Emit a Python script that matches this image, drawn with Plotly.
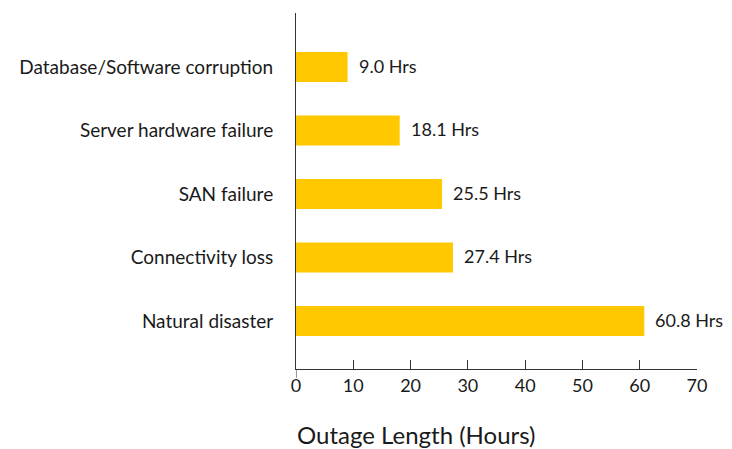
import plotly.graph_objects as go

categories = ["Natural disaster", "Connectivity loss", "SAN failure",
              "Server hardware failure", "Database/Software corruption"]
hours = [60.8, 27.4, 25.5, 18.1, 9.0]
x_ticks = [0, 10, 20, 30, 40, 50, 60, 70]

FONT = "Lato, 'Open Sans', sans-serif"
TXT = "#1a1a1a"

fig = go.Figure()
fig.add_trace(go.Bar(
    x=hours, y=categories, orientation="h",
    marker=dict(color="#FFC800", line=dict(width=0)),
    width=0.47, hoverinfo="skip",
))

for v, c in zip(hours, categories):
    fig.add_annotation(x=v, y=c, text=f"{v:.1f} Hrs", showarrow=False,
                       xanchor="left", xshift=9, yshift=1,
                       font=dict(family=FONT, size=18, color=TXT))

fig.add_annotation(xref="paper", yref="paper", x=0, y=0, yshift=-49, xshift=-1,
                   xanchor="left", yanchor="top", text="Outage Length (Hours)",
                   showarrow=False, font=dict(family=FONT, size=24, color=TXT))

fig.add_shape(type="line", xref="x", yref="paper", x0=0, x1=0, y0=0, y1=-0.025,
              line=dict(color="#333", width=1))

# page body has an 8px margin, so the figure is sized to the visible area
fig.update_layout(
    width=724, height=441,
    margin=dict(l=288, r=35, t=5, b=80, autoexpand=False),
    plot_bgcolor="white", paper_bgcolor="white",
    showlegend=False,
    font=dict(family=FONT, size=18, color=TXT),
    xaxis=dict(range=[0, 70], tickvals=x_ticks, ticks="inside", ticklen=9,
               tickcolor="#333", showline=True, linecolor="#333", linewidth=1,
               showgrid=False, zeroline=False,
               tickfont=dict(family=FONT, size=18, color=TXT)),
    yaxis=dict(range=[-0.756, 4.85], showline=True, linecolor="#333", linewidth=1,
               showgrid=False, zeroline=False, ticks="", ticklabelstandoff=18,
               tickfont=dict(family=FONT, size=19, color=TXT)),
)

fig.write_html("out.html")
